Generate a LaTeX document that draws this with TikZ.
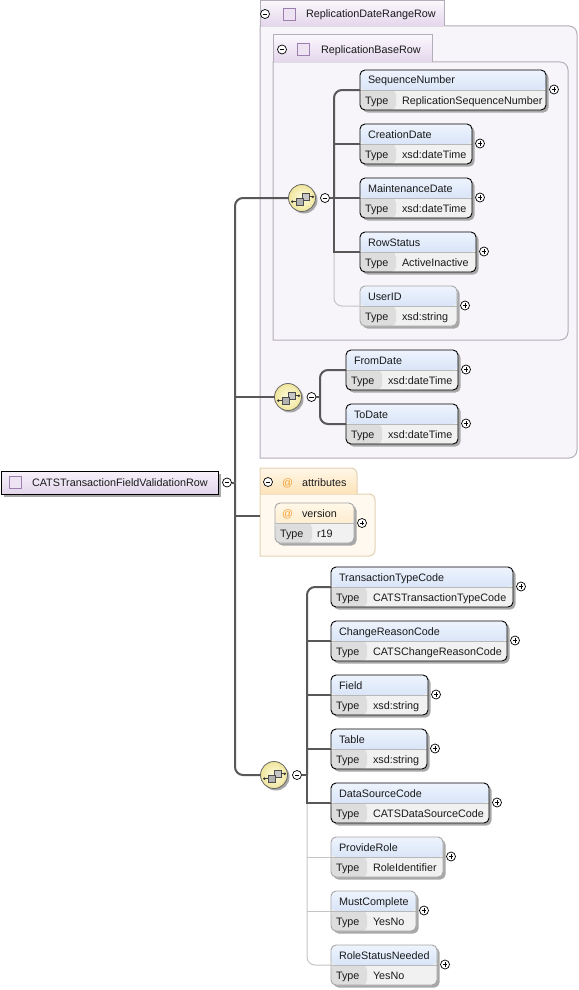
\documentclass[tikz,border=0pt]{standalone}
\usepackage{fontspec}
\setmainfont{Liberation Sans}
\usetikzlibrary{shapes.geometric}
\definecolor{txt}{HTML}{1A1A1A}
\definecolor{hdrtop}{HTML}{EEF4FD}
\definecolor{hdrbot}{HTML}{C3D5F3}
\definecolor{typec}{HTML}{DDDDDD}
\definecolor{valc}{HTML}{F1F1F1}
\definecolor{divc}{HTML}{B8B8B8}
\definecolor{optb}{HTML}{A6A6A6}
\definecolor{connc}{HTML}{585858}
\definecolor{optc}{HTML}{C4C4C4}
\definecolor{shad}{HTML}{A8A8A8}
\definecolor{grpfill}{HTML}{F8F5FA}
\definecolor{grpline}{HTML}{B4AEBA}
\definecolor{tabtop}{HTML}{FBF8FD}
\definecolor{tabbot}{HTML}{E4D6EC}
\definecolor{cbfill}{HTML}{EDE3F3}
\definecolor{cbline}{HTML}{9C7FAE}
\definecolor{mainT}{HTML}{F7F2FA}
\definecolor{mainB}{HTML}{E3D5EC}
\definecolor{atabT}{HTML}{FFF7E8}
\definecolor{atabB}{HTML}{FDE3B8}
\definecolor{abody}{HTML}{FFF9F0}
\definecolor{aline}{HTML}{E3D2B4}
\definecolor{atc}{HTML}{F0A030}
\definecolor{icin}{HTML}{FFFDE0}
\definecolor{icout}{HTML}{EFE59C}
\begin{document}
\begin{tikzpicture}[x=1pt,y=1pt,
  every node/.style={inner sep=0pt,outer sep=0pt},
  etext/.style={font=\fontsize{10.8}{12}\selectfont, text=txt, anchor=base west},
  elembox/.style={draw=black, line width=0.9, rounded corners=5, minimum height=40,
    anchor=north west, fill=valc,
    path picture={
      \fill[top color=hdrtop, bottom color=hdrbot] (path picture bounding box.north west) rectangle ([yshift=-20pt]path picture bounding box.north east);
      \fill[typec] ([yshift=-20pt]path picture bounding box.north west) rectangle ([xshift=36pt]path picture bounding box.south west);
      \draw[divc, line width=0.6] ([yshift=-20pt]path picture bounding box.north west) -- ([yshift=-20pt]path picture bounding box.north east);
    }},
  attrbox/.style={draw=optb, line width=0.9, rounded corners=5, minimum height=40,
    anchor=north west, fill=valc,
    path picture={
      \fill[top color=atabT, bottom color=atabB] (path picture bounding box.north west) rectangle ([yshift=-20pt]path picture bounding box.north east);
      \fill[typec] ([yshift=-20pt]path picture bounding box.north west) rectangle ([xshift=37pt]path picture bounding box.south west);
      \draw[divc, line width=0.6] ([yshift=-20pt]path picture bounding box.north west) -- ([yshift=-20pt]path picture bounding box.north east);
    }},
  pmc/.style={circle, draw=black, fill=white, line width=0.7, minimum size=9},
  pmminus/.style={pmc, path picture={\draw[line width=0.8] ([xshift=-2.3pt]path picture bounding box.center) -- ([xshift=2.3pt]path picture bounding box.center);}},
  pmplus/.style={pmc, path picture={\draw[line width=0.8] ([xshift=-2.3pt]path picture bounding box.center) -- ([xshift=2.3pt]path picture bounding box.center) ([yshift=-2.3pt]path picture bounding box.center) -- ([yshift=2.3pt]path picture bounding box.center);}},
  conn/.style={draw=connc, line width=2},
  optconn/.style={draw=optc, line width=1},
  grpbody/.style={draw=grpline, fill=grpfill, line width=1},
  grptab/.style={top color=tabtop, bottom color=tabbot},
  cbox/.style={draw=cbline, fill=cbfill, minimum size=12, line width=0.8},
  atsign/.style={font=\fontsize{10.8}{12}\selectfont, text=atc, anchor=base west}
]
\useasboundingbox (0,0) rectangle (578,-990);
\fill[white] (0,0) rectangle (578,-990);

\newcommand{\xelem}[7][]{%
  \fill[shad, rounded corners=5] (#3+2.5,-#4-2.5) rectangle ++(#5,-40);
  \node[elembox, minimum width=#5, #1] (#2) at (#3,-#4) {};
  \node[etext] (#2-n) at (#3+8,-#4-14) {#6};
  \node[etext] (#2-k) at (#3+5,-#4-34) {Type};
  \node[etext] (#2-t) at (#3+42,-#4-34) {#7};
  \node[pmplus] (#2-p) at (#3+#5+8,-#4-19.5) {};
}
\newcommand{\seqicon}[3]{%
  \fill[shad] (#2+2,-#3-2) circle[radius=13.5];
  \node[circle, minimum size=27, draw=black!60, line width=0.8, inner color=icin, outer color=icout] (#1) at (#2,-#3) {};
  \begin{scope}[shift={(#1.center)}, scale=1.2]
    \draw[black!75, line width=0.7] (-8,-3) -- (-5,-3);
    \fill[black!80] (-8,-3) circle[radius=1.1];
    \draw[black!70, fill=gray!45, line width=0.6] (0,-2) rectangle (6,4);
    \draw[black!70, fill=gray!60, line width=0.6] (-5,-6) rectangle (1,0);
    \draw[black!75, line width=0.7] (6,1) -- (9,1);
    \fill[black!80] (9,1) circle[radius=1.1];
  \end{scope}
}

% ---------- ReplicationDateRangeRow group ----------
\path[grpbody] (260,-26) -- (569,-26) arc[start angle=90,end angle=0,radius=8] -- (577,-450) arc[start angle=0,end angle=-90,radius=8] -- (260,-458) -- cycle;
\node[grptab, minimum width=184, minimum height=25.5, anchor=north west] (rdrrtab) at (260,-0.5) {};
\draw[grpline, line width=1] (rdrrtab.south west) |- (rdrrtab.north east) -- (rdrrtab.south east);
\node[pmminus] (rdrrm) at (265,-14) {};
\node[cbox] (rdrrcb) at (289.5,-14.5) {};
\node[etext] (rdrrlbl) at (306,-18) {ReplicationDateRangeRow};

% ---------- ReplicationBaseRow group ----------
\path[grpbody] (273,-62) -- (560,-62) arc[start angle=90,end angle=0,radius=8] -- (568,-332) arc[start angle=0,end angle=-90,radius=8] -- (273,-340) -- cycle;
\node[grptab, minimum width=159, minimum height=27, anchor=north west] (rbrtab) at (273,-35) {};
\draw[grpline, line width=1] (rbrtab.south west) |- (rbrtab.north east) -- (rbrtab.south east);
\node[pmminus] (rbrm) at (282,-49.5) {};
\node[cbox] (rbrcb) at (303,-49.5) {};
\node[etext] (rbrlbl) at (321,-53) {ReplicationBaseRow};

% ---------- attributes group ----------
\path[draw=aline, fill=abody, line width=1] (260,-494) -- (369,-494) arc[start angle=90,end angle=0,radius=6] -- (375,-550) arc[start angle=0,end angle=-90,radius=6] -- (260,-556) -- cycle;
\path[top color=atabT, bottom color=atabB] (260,-494) -- (260,-468) -- (351,-468) arc[start angle=90,end angle=0,radius=6] -- (357,-494) -- cycle;
\draw[aline, line width=1] (260,-494) -- (260,-468) -- (351,-468) arc[start angle=90,end angle=0,radius=6] -- (357,-494);
\node[pmminus] (attrm) at (268,-482) {};
\node[atsign] (attrat) at (282,-486) {@};
\node[etext] (attrlbl) at (302,-486) {attributes};
\coordinate (attrin) at (260,-516);

% version attribute
\fill[shad, rounded corners=5] (277.5,-505.5) rectangle ++(79,-40);
\node[attrbox, minimum width=79] (version) at (275,-503) {};
\node[atsign] (versionat) at (282,-517) {@};
\node[etext] (version-n) at (302,-517) {version};
\node[etext] (version-k) at (280,-537) {Type};
\node[etext] (version-t) at (317,-537) {r19};
\node[pmplus] (version-p) at (362,-523) {};

% ---------- root element ----------
\fill[shad] (3.5,-473.5) rectangle (220.5,-496.5);
\node[draw=black, line width=1, top color=mainT, bottom color=mainB, minimum width=217, minimum height=23, anchor=north west] (root) at (1,-471) {};
\node[cbox] (rootcb) at (15,-482.5) {};
\node[etext] (rootlbl) at (32,-486.5) {CATSTransactionFieldValidationRow};
\node[pmminus] (rootm) at (227,-482.5) {};
\coordinate (mt) at (235,-482.5);

% ---------- sequence 1 ----------
\seqicon{s1}{302}{198}
\node[pmminus] (s1m) at (325,-198) {};
\coordinate (s1t) at (334,-198);
\xelem{seqnum}{360}{70}{186}{SequenceNumber}{ReplicationSequenceNumber}
\xelem{creation}{360}{124}{112}{CreationDate}{xsd:dateTime}
\xelem{maint}{360}{178}{112}{MaintenanceDate}{xsd:dateTime}
\xelem{rowstat}{360}{232}{116}{RowStatus}{ActiveInactive}
\xelem[draw=optb]{userid}{360}{286}{97}{UserID}{xsd:string}

% ---------- sequence 2 ----------
\seqicon{s2}{288}{397}
\node[pmminus] (s2m) at (311.5,-397) {};
\coordinate (s2t) at (320,-397);
\xelem{fromd}{346}{350}{112}{FromDate}{xsd:dateTime}
\xelem{tod}{346}{404}{112}{ToDate}{xsd:dateTime}

% ---------- sequence 3 ----------
\seqicon{s3}{274}{775}
\node[pmminus] (s3m) at (297,-775) {};
\coordinate (s3t) at (307,-775);
\xelem{ttc}{331}{567}{182}{TransactionTypeCode}{CATSTransactionTypeCode}
\xelem{crc}{331}{621}{176}{ChangeReasonCode}{CATSChangeReasonCode}
\xelem{field}{331}{675}{97}{Field}{xsd:string}
\xelem{table}{331}{729}{96}{Table}{xsd:string}
\xelem{dsc}{331}{783}{158}{DataSourceCode}{CATSDataSourceCode}
\xelem[draw=optb]{prole}{331}{837}{112}{ProvideRole}{RoleIdentifier}
\xelem[draw=optb]{mustc}{331}{891}{85}{MustComplete}{YesNo}
\xelem[draw=optb]{rsn}{331}{945}{106}{RoleStatusNeeded}{YesNo}

% ---------- connectors ----------
% root trunk
\draw[conn] (rootm.east) -- (mt);
\draw[conn, rounded corners=8] (s1.west) -| (mt);
\draw[conn, rounded corners=8] (s3.west) -| (mt);
\draw[conn] (s2.west) -- (s2.west -| mt);
\draw[conn] (attrin) -- (attrin -| mt);

% sequence 1
\draw[optconn, rounded corners=8] (userid.west) -| (s1t);
\draw[conn] (s1m.east) -- (s1t);
\draw[conn, rounded corners=8] (seqnum.west) -| (s1t);
\draw[conn] (creation.west) -- (creation.west -| s1t);
\draw[conn] (maint.west) -- (maint.west -| s1t);
\draw[conn] (rowstat.west) -| (s1t);

% sequence 2
\draw[conn] (s2m.east) -- (s2t);
\draw[conn, rounded corners=8] (fromd.west) -| (s2t);
\draw[conn, rounded corners=8] (tod.west) -| (s2t);

% sequence 3
\draw[optconn, rounded corners=8] (rsn.west) -| (s3t);
\draw[optconn] (prole.west) -- (prole.west -| s3t);
\draw[optconn] (mustc.west) -- (mustc.west -| s3t);
\draw[conn] (s3m.east) -- (s3t);
\draw[conn, rounded corners=8] (ttc.west) -| (s3t);
\draw[conn] (crc.west) -- (crc.west -| s3t);
\draw[conn] (field.west) -- (field.west -| s3t);
\draw[conn] (table.west) -- (table.west -| s3t);
\draw[conn] (dsc.west) -| (s3t);
\end{tikzpicture}
\end{document}
